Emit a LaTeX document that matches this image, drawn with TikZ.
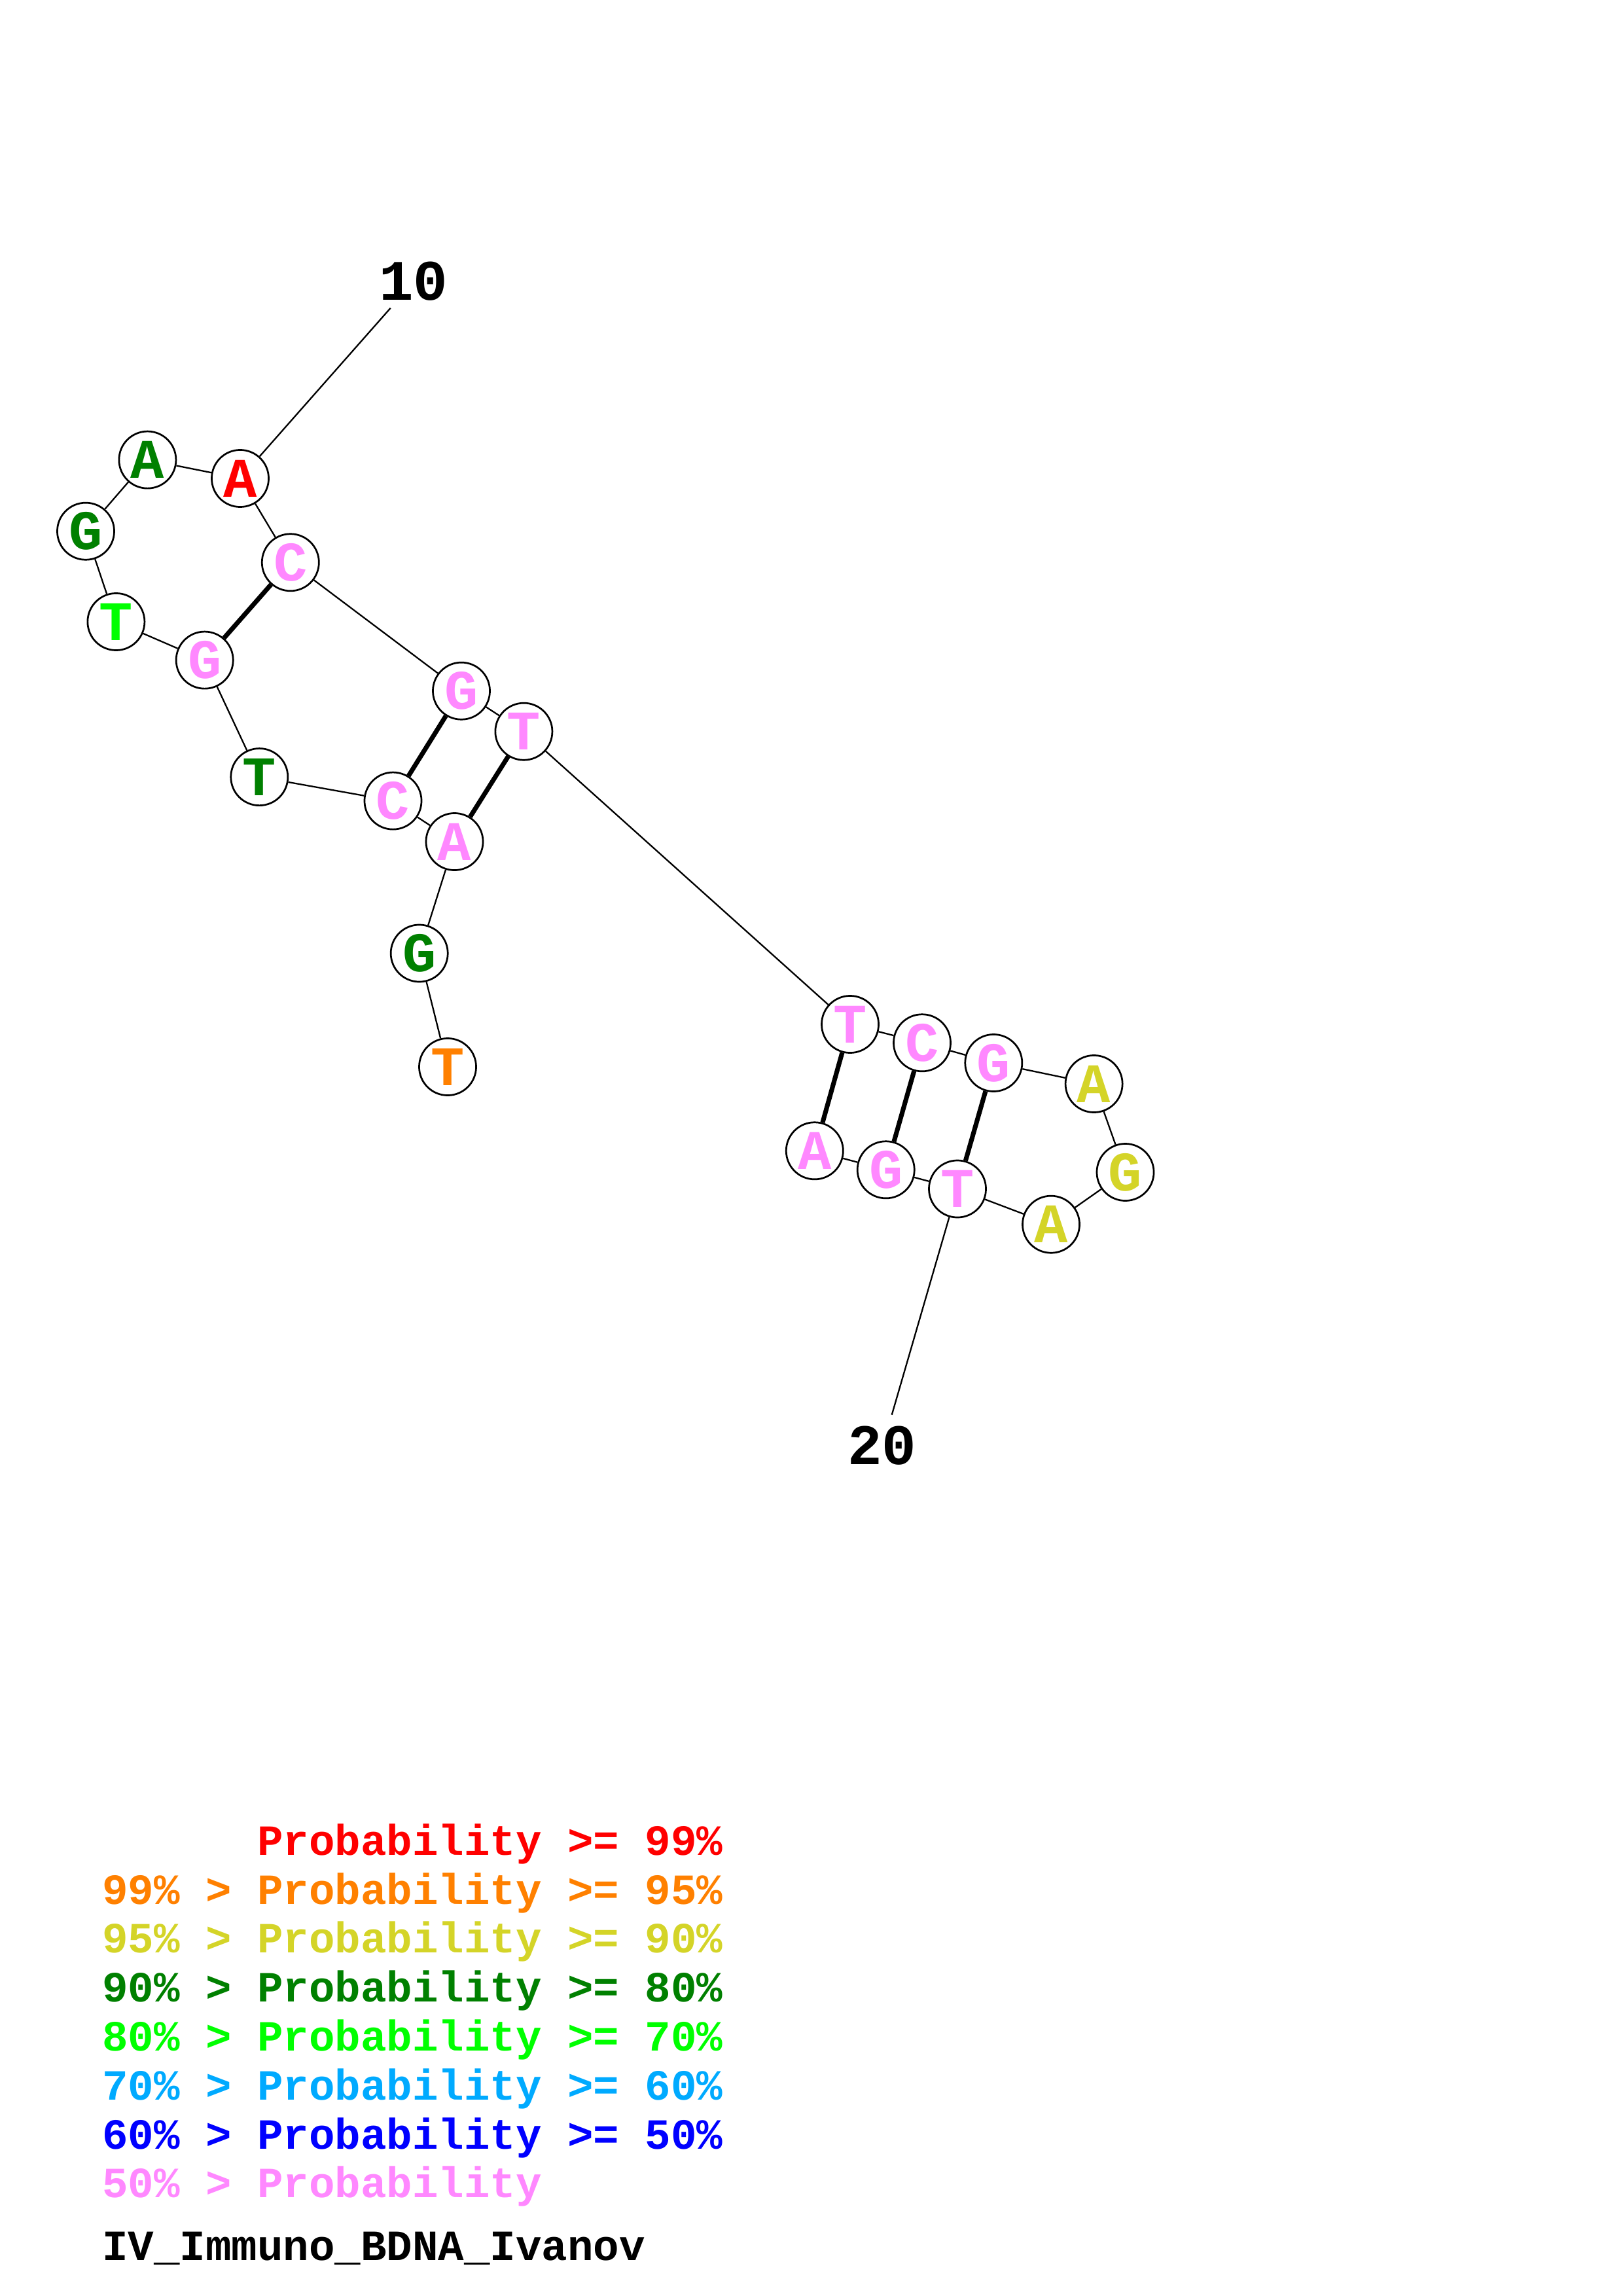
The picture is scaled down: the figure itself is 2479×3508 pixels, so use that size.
\documentclass[tikz,border=0pt]{standalone}
\usepackage{fontspec}
\setmonofont{Liberation Mono}
\usepackage{tikz}
\usetikzlibrary{positioning}

\definecolor{pr99}{RGB}{255,0,0}
\definecolor{pr95}{RGB}{255,128,0}
\definecolor{pr90}{RGB}{212,212,40}
\definecolor{pr80}{RGB}{0,128,0}
\definecolor{pr70}{RGB}{0,255,0}
\definecolor{pr60}{RGB}{0,170,255}
\definecolor{pr50}{RGB}{0,0,255}
\definecolor{prlow}{RGB}{255,136,255}

\tikzset{
  nt/.style={circle, draw, fill=white, line width=0.65pt, minimum size=20.9pt, inner sep=0pt,
    font=\ttfamily\bfseries\fontsize{20.5}{24}\selectfont},
  bb/.style={line width=0.55pt},
  bp/.style={line width=1.7pt},
  num/.style={font=\ttfamily\bfseries\fontsize{21}{25}\selectfont, inner sep=0pt},
  leg/.style={anchor=base west, inner sep=0pt, font=\ttfamily\bfseries\fontsize{15.8}{19}\selectfont}
}

\begin{document}
\begin{tikzpicture}[x=0.24pt, y=-0.24pt]
\useasboundingbox (0,0) rectangle (2479,3508);

\node[nt, text=pr95] (b1) at (684,1630) {T};
\node[nt, text=pr80] (b2) at (640.7,1456.5) {G};
\node[nt, text=prlow] (b3) at (694.5,1286) {A};
\node[nt, text=prlow] (b4) at (600.5,1223.6) {C};
\node[nt, text=pr80] (b5) at (396.3,1187.1) {T};
\node[nt, text=prlow] (b6) at (312.7,1008.6) {G};
\node[nt, text=pr70] (b7) at (177.4,950) {T};
\node[nt, text=pr80] (b8) at (131,811.7) {G};
\node[nt, text=pr80] (b9) at (225.4,702.6) {A};
\node[nt, text=pr99] (b10) at (367,731) {A};
\node[nt, text=prlow] (b11) at (443.8,859.3) {C};
\node[nt, text=prlow] (b12) at (705,1055.7) {G};
\node[nt, text=prlow] (b13) at (800.4,1117.7) {T};
\node[nt, text=prlow] (b14) at (1299,1565) {T};
\node[nt, text=prlow] (b15) at (1409,1593.3) {C};
\node[nt, text=prlow] (b16) at (1518.3,1624) {G};
\node[nt, text=pr90] (b17) at (1671.6,1656) {A};
\node[nt, text=pr90] (b18) at (1719.5,1791) {G};
\node[nt, text=pr90] (b19) at (1606,1870.7) {A};
\node[nt, text=prlow] (b20) at (1463,1816.5) {T};
\node[nt, text=prlow] (b21) at (1353.7,1787.3) {G};
\node[nt, text=prlow] (b22) at (1244.8,1758.3) {A};

\foreach \i [count=\j from 2] in {1,...,21}
  \draw[bb] (b\i) -- (b\j);
\foreach \i/\j in {11/6, 12/4, 13/3, 14/22, 15/21, 16/20}
  \draw[bp] (b\i) -- (b\j);

\node[num] (lab10) at (631.5,429.5) {10};
\coordinate (e10) at (596.7,470.7);
\draw[bb] (b10) -- (e10);
\node[num] (lab20) at (1347.5,2208.3) {20};
\coordinate (e20) at (1362.7,2161.7);
\draw[bb] (b20) -- (e20);

\node[leg, text=pr99] (l99) at (392.5,2834) {Probability >= 99\%};
\node[leg, text=pr95] (l95) at (155.5,2909) {99\% > Probability >= 95\%};
\node[leg, text=pr90] (l90) at (155.5,2983.6) {95\% > Probability >= 90\%};
\node[leg, text=pr80] (l80) at (155.5,3058.6) {90\% > Probability >= 80\%};
\node[leg, text=pr70] (l70) at (155.5,3133.1) {80\% > Probability >= 70\%};
\node[leg, text=pr60] (l60) at (155.5,3208.1) {70\% > Probability >= 60\%};
\node[leg, text=pr50] (l50) at (155.5,3283.1) {60\% > Probability >= 50\%};
\node[leg, text=prlow] (llow) at (155.5,3357.7) {50\% > Probability};
\node[leg] (title) at (155.5,3453) {IV\_Immuno\_BDNA\_Ivanov};
\end{tikzpicture}
\end{document}
